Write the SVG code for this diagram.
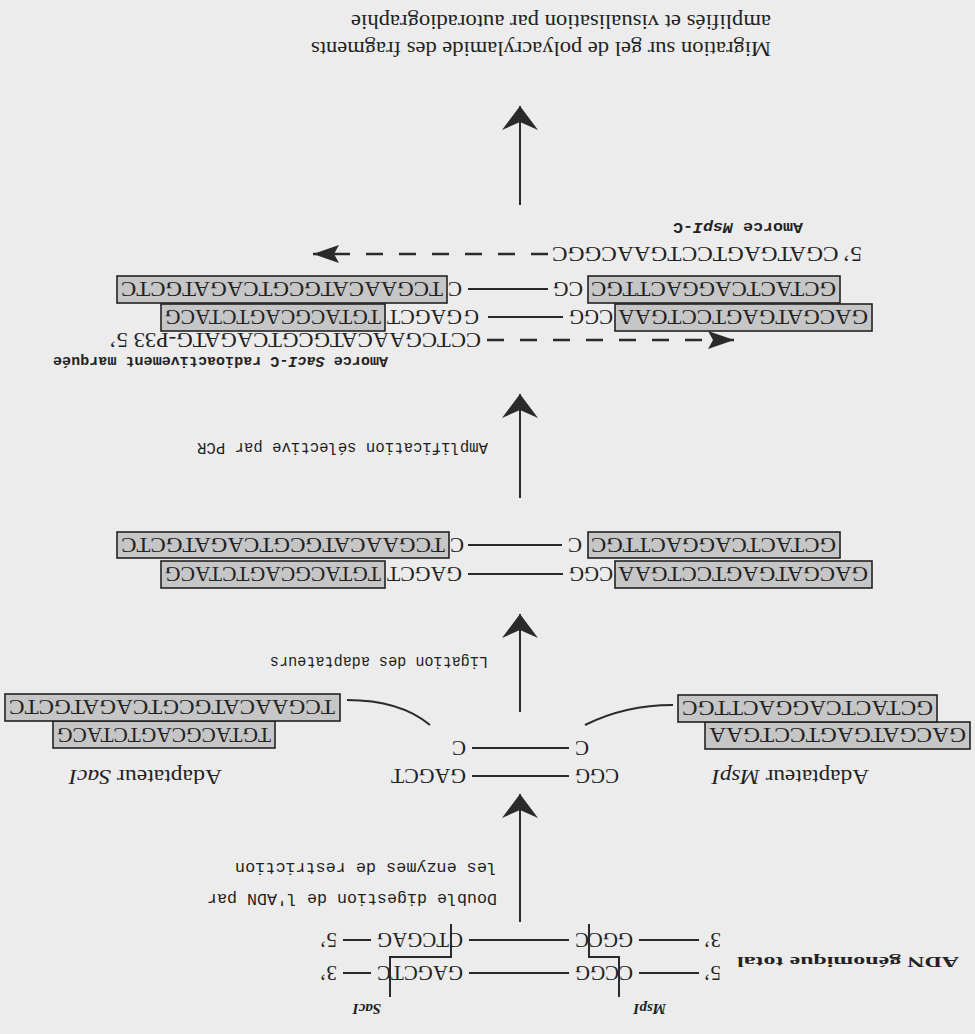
<svg xmlns="http://www.w3.org/2000/svg" width="975" height="1034" viewBox="0 0 975 1034">
<defs>
<style>
.dna{font-family:"Liberation Serif","Times New Roman",serif;font-size:21px;fill:#222}
.lab{font-family:"Liberation Serif","Times New Roman",serif;font-size:21px;fill:#222}
.step{font-family:"Liberation Mono","Courier New",monospace;font-size:16px;fill:#1e1e1e}
.bl{font-family:"Liberation Serif","Times New Roman",serif;font-weight:bold;font-size:15px;fill:#222}
.am{font-family:"Liberation Mono","Courier New",monospace;font-weight:bold;font-size:15px;fill:#222}
.it{font-style:italic}
.box{fill:#c6c6c6;stroke:#222;stroke-width:1.6}
.ln{stroke:#2a2a2a;stroke-width:2;fill:none}
.ar{stroke:#2a2a2a;stroke-width:2;fill:none;marker-end:url(#head)}
.dash{stroke:#2a2a2a;stroke-width:2.5;stroke-dasharray:17 16;fill:none;marker-end:url(#ph)}
</style>
<marker id="head" viewBox="0 0 24 36" refX="24" refY="18" markerWidth="24" markerHeight="36" markerUnits="userSpaceOnUse" orient="auto">
<path d="M24,18 L0,0 L8,18 L0,36 Z" fill="#2a2a2a"/>
</marker>
<marker id="ph" viewBox="0 0 26 18" refX="26" refY="9" markerWidth="26" markerHeight="18" markerUnits="userSpaceOnUse" orient="auto">
<path d="M26,9 L0,0 L5,9 L0,18 Z" fill="#2a2a2a"/>
</marker>
</defs>
<rect width="975" height="1034" fill="#ececec"/>
<g transform="rotate(180 487.5 517)">
<g id="connectors">
<path class="ar" d="M455,112 L455,240"/>
<path class="ar" d="M455,322 L455,420"/>
<path class="ar" d="M455,536 L455,640"/>
<path class="ar" d="M455,829 L455,928"/>
<path class="ln" d="M628,334 Q575,334 545,309"/>
<path class="ln" d="M302,329 Q350,329 390,309"/>
<path class="dash" d="M488,694 L241,694"/>
<path class="dash" d="M427,780 L662,780"/>
</g>
<g id="enzymes">
<text class="bl it" x="309" y="30" font-size="18">MspI</text>
<text class="bl it" x="594" y="30" font-size="18">SacI</text>
<polyline class="ln" points="356,37 356,77 386,77 386,110"/>
<polyline class="ln" points="585,37 585,77 524,77 524,110"/>
</g>
<g id="genomic-dna">
<text class="bl" x="16" y="77" font-size="19" textLength="222" lengthAdjust="spacingAndGlyphs">ADN génomique total</text>
<text class="dna" x="254" y="68">5’</text>
<line class="ln" x1="276" y1="61" x2="336" y2="61"/>
<text class="dna" x="342" y="68" textLength="58" lengthAdjust="spacingAndGlyphs">CCGG</text>
<line class="ln" x1="406" y1="61" x2="506" y2="61"/>
<text class="dna" x="512" y="68" textLength="86" lengthAdjust="spacingAndGlyphs">GAGCTC</text>
<line class="ln" x1="604" y1="61" x2="632" y2="61"/>
<text class="dna" x="638" y="68">3’</text>
<text class="dna" x="254" y="101">3’</text>
<line class="ln" x1="276" y1="94" x2="336" y2="94"/>
<text class="dna" x="342" y="101" textLength="58" lengthAdjust="spacingAndGlyphs">GGCC</text>
<line class="ln" x1="406" y1="94" x2="506" y2="94"/>
<text class="dna" x="512" y="101" textLength="86" lengthAdjust="spacingAndGlyphs">CTCGAG</text>
<line class="ln" x1="604" y1="94" x2="632" y2="94"/>
<text class="dna" x="638" y="101">5’</text>
</g>
<g id="step-digestion">
<text class="step" x="478" y="140" textLength="290" lengthAdjust="spacingAndGlyphs">Double digestion de l'ADN par</text>
<text class="step" x="478" y="171" textLength="262" lengthAdjust="spacingAndGlyphs">les enzymes de restriction</text>
</g>
<g id="fragment">
<text class="dna" x="356" y="265" textLength="44" lengthAdjust="spacingAndGlyphs">CGG</text>
<line class="ln" x1="406" y1="258" x2="503" y2="258"/>
<text class="dna" x="509" y="265" textLength="75" lengthAdjust="spacingAndGlyphs">GAGCT</text>
<text class="dna" x="386" y="293">C</text>
<line class="ln" x1="406" y1="286" x2="503" y2="286"/>
<text class="dna" x="509" y="293">C</text>
</g>
<g id="adaptateur-mspi">
<text class="lab" x="106" y="264" font-size="17" textLength="157" lengthAdjust="spacingAndGlyphs">Adaptateur <tspan class="it">MspI</tspan></text>
<rect class="box" x="5" y="285" width="265" height="27"/>
<text class="dna" x="9" y="306" textLength="257" lengthAdjust="spacingAndGlyphs">GACGATGAGTCCTGAA</text>
<rect class="box" x="38" y="312" width="259" height="27"/>
<text class="dna" x="42" y="333" textLength="251" lengthAdjust="spacingAndGlyphs">GCTACTCAGGACTTGC</text>
</g>
<g id="adaptateur-saci">
<text class="lab" x="753" y="264" font-size="17" textLength="153" lengthAdjust="spacingAndGlyphs">Adaptateur <tspan class="it">SacI</tspan></text>
<rect class="box" x="700" y="286" width="222" height="27"/>
<text class="dna" x="704" y="306" textLength="214" lengthAdjust="spacingAndGlyphs">TGTACGCAGTCTACG</text>
<rect class="box" x="635" y="313" width="335" height="27"/>
<text class="dna" x="640" y="334" textLength="326" lengthAdjust="spacingAndGlyphs">TCGAACATGCGTCAGATGCTC</text>
</g>
<g id="step-ligation">
<text class="step" x="487" y="377" textLength="218" lengthAdjust="spacingAndGlyphs">Ligation des adaptateurs</text>
</g>
<g id="ligation-product">
<rect class="box" x="103" y="446" width="257" height="27"/>
<text class="dna" x="107" y="467" textLength="250" lengthAdjust="spacingAndGlyphs">GACGATGAGTCCTGAA</text>
<text class="dna" x="362" y="467" textLength="44" lengthAdjust="spacingAndGlyphs">CGG</text>
<line class="ln" x1="412" y1="460" x2="507" y2="460"/>
<text class="dna" x="513" y="467" textLength="75" lengthAdjust="spacingAndGlyphs">GAGCT</text>
<rect class="box" x="590" y="446" width="224" height="27"/>
<text class="dna" x="594" y="467" textLength="216" lengthAdjust="spacingAndGlyphs">TGTACGCAGTCTACG</text>
<rect class="box" x="135" y="476" width="252" height="26"/>
<text class="dna" x="139" y="496" textLength="245" lengthAdjust="spacingAndGlyphs">GCTACTCAGGACTTGC</text>
<text class="dna" x="393" y="496">C</text>
<line class="ln" x1="413" y1="489" x2="507" y2="489"/>
<text class="dna" x="511" y="496">C</text>
<rect class="box" x="526" y="476" width="332" height="26"/>
<text class="dna" x="530" y="496" textLength="324" lengthAdjust="spacingAndGlyphs">TCGAACATGCGTCAGATGCTC</text>
</g>
<g id="step-pcr">
<text class="step" x="487" y="591" textLength="291" lengthAdjust="spacingAndGlyphs">Amplification sélective par PCR</text>
</g>
<g id="amorce-saci">
<text class="am" x="587" y="677" textLength="335" lengthAdjust="spacingAndGlyphs">Amorce <tspan class="it">SacI</tspan>-C radioactivement marquée</text>
<text class="dna" x="494" y="701" textLength="372" lengthAdjust="spacingAndGlyphs">CCTCGAACATGCGTCAGATG-P33 5’</text>
</g>
<g id="pcr-product">
<rect class="box" x="103" y="703" width="257" height="27"/>
<text class="dna" x="107" y="724" textLength="250" lengthAdjust="spacingAndGlyphs">GACGATGAGTCCTGAA</text>
<text class="dna" x="362" y="724" textLength="44" lengthAdjust="spacingAndGlyphs">CGG</text>
<line class="ln" x1="412" y1="717" x2="487" y2="717"/>
<text class="dna" x="496" y="724">G</text>
<text class="dna" x="513" y="724" textLength="75" lengthAdjust="spacingAndGlyphs">GAGCT</text>
<rect class="box" x="590" y="703" width="224" height="27"/>
<text class="dna" x="594" y="724" textLength="216" lengthAdjust="spacingAndGlyphs">TGTACGCAGTCTACG</text>
<rect class="box" x="135" y="731" width="252" height="27"/>
<text class="dna" x="139" y="752" textLength="245" lengthAdjust="spacingAndGlyphs">GCTACTCAGGACTTGC</text>
<text class="dna" x="392" y="752" textLength="30" lengthAdjust="spacingAndGlyphs">CG</text>
<line class="ln" x1="427" y1="745" x2="507" y2="745"/>
<text class="dna" x="513" y="752">C</text>
<rect class="box" x="528" y="731" width="330" height="27"/>
<text class="dna" x="532" y="752" textLength="322" lengthAdjust="spacingAndGlyphs">TCGAACATGCGTCAGATGCTC</text>
</g>
<g id="amorce-mspi">
<text class="dna" x="113" y="787" textLength="310" lengthAdjust="spacingAndGlyphs">5’ CGATGAGTCCTGAACGGC</text>
<text class="am" x="172" y="811" textLength="130" lengthAdjust="spacingAndGlyphs">Amorce <tspan class="it">MspI</tspan>-C</text>
</g>
<g id="step-migration">
<text class="lab" x="204" y="992" textLength="460" lengthAdjust="spacingAndGlyphs">Migration sur gel de polyacrylamide des fragments</text>
<text class="lab" x="204" y="1019" textLength="420" lengthAdjust="spacingAndGlyphs">amplifiés et visualisation par autoradiographie</text>
</g>
</g>
</svg>
